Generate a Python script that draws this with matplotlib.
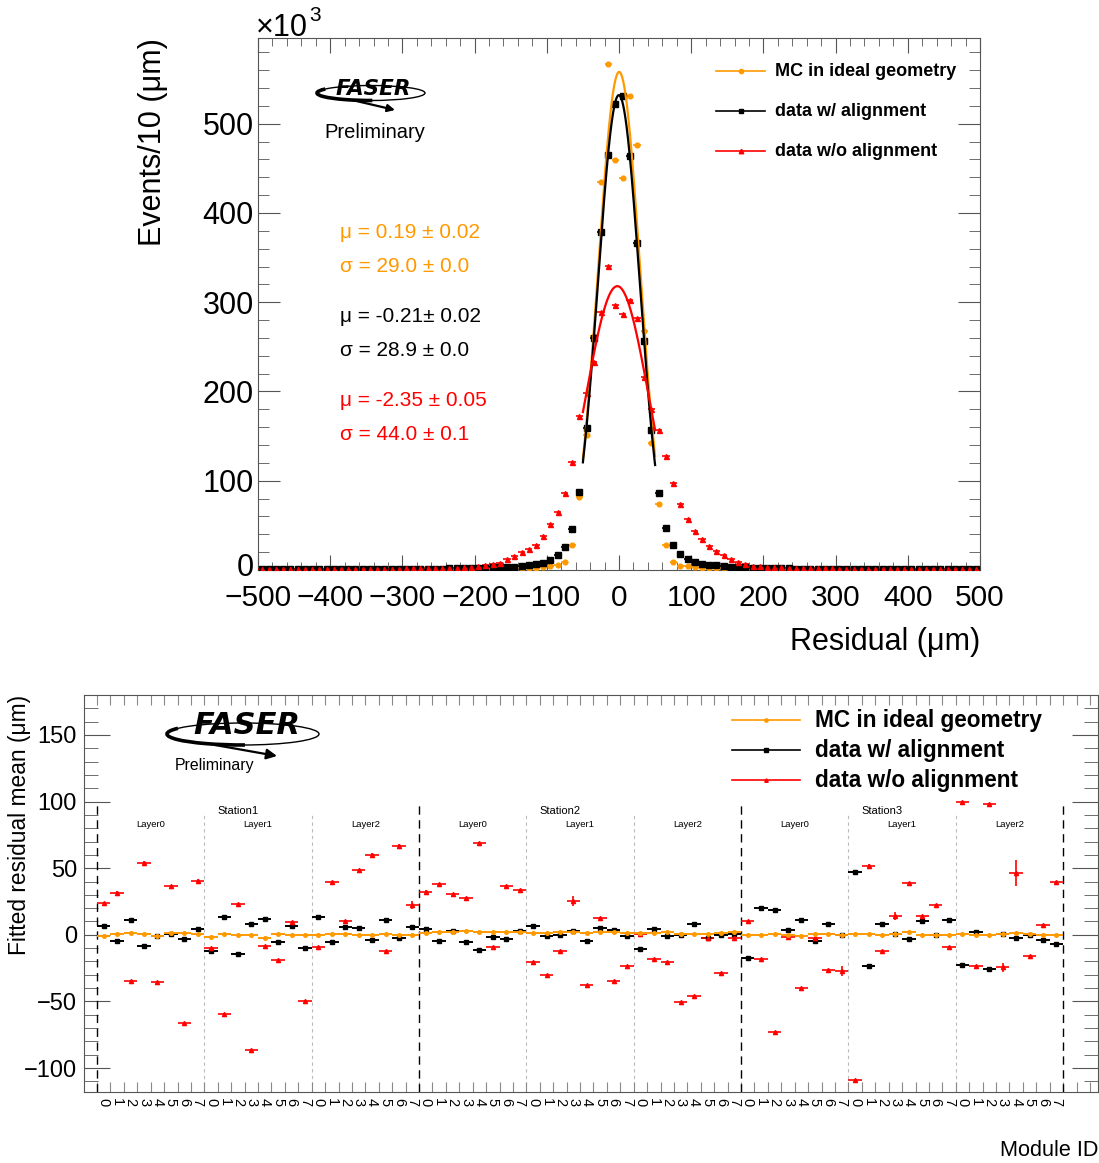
import numpy as np
import matplotlib.pyplot as plt
from matplotlib.patches import Ellipse, Arc
from matplotlib.ticker import MultipleLocator
from matplotlib.transforms import ScaledTranslation

plt.rcParams['font.family'] = ['Liberation Sans', 'DejaVu Sans']

W, H = 1099, 1163
ORANGE = '#ff9900'
TICK_GRAY = '#555555'

# ---------------- top panel: residual distributions (x10^3 events / 10 um) ----------------
residual_bins = np.arange(-495, 500, 10)

mc_counts = [
    0.4, 0.4, 0.4, 0.5, 0.4, 0.5, 0.5, 0.5, 0.5, 0.6,
    0.5, 0.6, 0.6, 0.6, 0.7, 0.7, 0.7, 0.8, 0.8, 0.9,
    0.9, 1.0, 1.0, 1.1, 1.1, 1.2, 1.2, 1.3, 1.4, 1.4,
    1.5, 1.5, 1.6, 1.7, 1.8, 1.9, 2.0, 2.1, 2.4,
    3.0, 4.0, 5.2, 9.3, 27.7, 82, 151, 262, 435, 567, 459,
    439, 531, 476, 268, 142, 74, 27.7, 9.3, 5.0, 4.0, 3.0,
    2.4, 2.1, 2.0, 1.9, 1.8, 1.7, 1.6, 1.5, 1.5, 1.4,
    1.4, 1.3, 1.2, 1.2, 1.1, 1.1, 1.0, 1.0, 0.9, 0.9,
    0.8, 0.8, 0.7, 0.7, 0.7, 0.6, 0.6, 0.6, 0.5, 0.6,
    0.5, 0.5, 0.5, 0.5, 0.4, 0.5, 0.4, 0.4, 0.4,
]
aligned_counts = [
    0.6, 0.6, 0.6, 0.7, 0.7, 0.7, 0.7, 0.8, 0.8, 0.8,
    0.9, 0.9, 0.9, 1.0, 1.0, 1.0, 1.1, 1.1, 1.2, 1.2,
    1.3, 1.3, 1.4, 1.5, 1.5, 1.6, 1.7, 1.8, 1.9, 2.1,
    2.3, 2.7, 3.0, 3.3, 3.3, 3.9, 4.6, 5.3, 6.7,
    7.5, 11, 16.5, 26, 46, 87, 159, 260, 379, 465, 522,
    531, 464, 366, 257, 157, 86, 47, 27.7, 18, 12.5, 8.6,
    7.0, 5.6, 5.2, 4.0, 3.6, 3.6, 3.3, 2.6, 2.3, 2.1,
    1.9, 1.8, 1.7, 1.6, 1.5, 1.5, 1.4, 1.3, 1.3, 1.2,
    1.2, 1.1, 1.1, 1.0, 1.0, 1.0, 0.9, 0.9, 0.9, 0.8,
    0.8, 0.8, 0.8, 0.7, 0.7, 0.7, 0.7, 0.6, 0.6,
]
unaligned_counts = [
    0.7, 0.7, 0.8, 0.8, 0.8, 0.9, 0.9, 0.9, 1.0, 1.0,
    1.1, 1.1, 1.2, 1.2, 1.3, 1.3, 1.4, 1.5, 1.5, 1.6,
    1.7, 1.8, 1.9, 2.0, 2.2, 2.4, 2.6, 2.8, 3.0, 3.3,
    4.0, 5.3, 6.7, 8.0, 12, 15.7, 20.5, 23, 28,
    38, 52, 65, 86, 121, 173, 198, 233, 289, 341, 297,
    287, 302, 282, 216, 180, 157, 128, 97, 74, 57, 44,
    34.7, 27, 21, 16.5, 12, 8.6, 7.0, 4.9, 4.0, 3.6,
    3.2, 2.9, 2.6, 2.4, 2.2, 2.0, 1.9, 1.8, 1.7, 1.6,
    1.5, 1.4, 1.3, 1.3, 1.2, 1.1, 1.1, 1.0, 1.0, 0.9,
    0.9, 0.9, 0.8, 0.8, 0.8, 0.7, 0.7, 0.7, 0.7,
]

# gaussian fit results (amplitude in x10^3, mean and sigma in um)
fit_amp = [558, 532, 318]
fit_mu = [0.19, -0.21, -2.35]
fit_sigma = [29.0, 28.9, 44.0]
fit_range = (-50, 50)

series_labels = ['MC in ideal geometry', 'data w/ alignment', 'data w/o alignment']
series_colors = [ORANGE, 'black', 'red']
stat_lines = [
    ('\u03bc = 0.19 \u00b1 0.02', '\u03c3 = 29.0 \u00b1 0.0'),
    ('\u03bc = -0.21\u00b1 0.02', '\u03c3 = 28.9 \u00b1 0.0'),
    ('\u03bc = -2.35 \u00b1 0.05', '\u03c3 = 44.0 \u00b1 0.1'),
]

# ---------------- bottom panel: fitted residual mean per module (um) ----------------
stations = ['Station1', 'Station2', 'Station3']
layers = ['Layer0', 'Layer1', 'Layer2']
modules = ['0', '1', '2', '3', '4', '5', '6', '7']

mc_mean = [
    -0.75, 0.5, 1.25, 0.25, -0.75, 1.0, 1.5, 0.75,
    -1.5, 0.25, -0.25, -0.25, -2.25, 0.25, -0.5, -0.5,
    0.0, 0.25, 0.25, -0.5, -0.5, 0.75, -0.25, -0.5,
    1.5, 2.25, 2.25, 2.5, 2.25, 2.25, 2.25, 2.25,
    1.0, 1.0, 2.25, 2.0, 1.0, 2.0, 2.0, 1.5,
    1.0, 1.5, 2.25, 0.5, 0.75, 0.25, 1.5, 1.75,
    -0.5, -0.5, 0.25, -0.5, -1.0, 0.5, 0.25, -0.5,
    0.25, 0.75, 0.0, 0.25, 2.0, 0.0, 0.0, -0.5,
    0.75, 0.0, -0.5, 0.25, 1.0, 0.5, 0.0, 0.0,
]
aligned_mean = [
    6.75, -5.0, 11.0, -8.25, -1.25, 0.5, -3.25, 4.0,
    -12.0, 13.25, -14.25, 8.0, 11.5, -5.75, 6.75, -10.25,
    13.0, -5.75, 5.5, 4.75, -3.75, 11.0, -2.25, 5.5,
    4.25, -4.75, 3.0, -5.75, -11.75, -1.5, -3.25, 2.5,
    6.75, -1.25, 0.0, 2.75, -4.5, 4.75, 3.5, -1.25,
    -10.5, 4.0, -1.25, -0.25, 8.0, -2.75, 0.0, 0.5,
    -17.75, 19.75, 18.25, 3.25, 11.0, -5.0, 7.75, -0.5,
    47.25, -23.25, 7.75, 0.5, -3.25, 10.5, 0.0, 11.0,
    -22.5, 1.75, -25.75, 0.5, -2.25, -0.25, -4.0, -6.75,
]
unaligned_mean = [
    24.0, 31.75, -35.0, 54.25, -35.25, 36.75, -66.5, 40.75,
    -10.25, -59.25, 23.25, -86.5, -8.5, -19.25, 9.25, -49.75,
    -9.25, 39.75, 10.0, 48.75, 60.25, -12.5, 67.0, 22.5,
    32.5, 38.0, 30.75, 27.5, 68.75, -9.0, 36.5, 33.75,
    -20.25, -30.5, -12.25, 25.25, -37.75, 12.5, -35.0, -23.5,
    0.75, -18.25, -20.25, -50.75, -46.0, -2.5, -28.75, -2.5,
    10.25, -18.0, -73.25, -1.5, -39.75, -2.5, -26.25, -27.0,
    -109.25, 52.0, -12.0, 14.25, 38.75, 13.75, 22.0, -9.25,
    99.75, -23.25, 98.25, -24.5, 46.5, -16.25, 7.5, 39.5,
]
unaligned_err = [
    0.8, 0.8, 0.8, 0.8, 0.8, 0.8, 0.8, 0.8,
    0.8, 0.8, 0.8, 0.8, 0.8, 0.8, 0.8, 0.8,
    0.8, 0.8, 0.8, 0.8, 0.8, 0.8, 0.8, 3.0,
    0.8, 0.8, 0.8, 0.8, 0.8, 0.8, 0.8, 0.8,
    0.8, 0.8, 0.8, 3.5, 0.8, 0.8, 0.8, 0.8,
    0.8, 0.8, 0.8, 0.8, 0.8, 0.8, 0.8, 0.8,
    0.8, 0.8, 0.8, 0.8, 0.8, 0.8, 0.8, 3.8,
    0.8, 0.8, 0.8, 2.8, 0.8, 0.8, 0.8, 0.8,
    0.8, 0.8, 0.8, 3.4, 10.0, 0.8, 0.8, 0.8,
]

n_modules = len(stations) * len(layers) * len(modules)
module_pos = np.arange(n_modules) + 0.5
module_labels = modules * (len(stations) * len(layers))

# ---------------- figure ----------------
fig = plt.figure(figsize=(W / 100, H / 100), dpi=100)


def px_axes(left, top, right, bottom):
    return fig.add_axes([left / W, 1 - bottom / H, (right - left) / W, (bottom - top) / H])


ax1 = px_axes(258, 38, 980, 570)
ax2 = px_axes(84, 695, 1098, 1092)
over = fig.add_axes([0, 0, 1, 1], zorder=5)
over.set_xlim(0, W)
over.set_ylim(H, 0)
over.axis('off')

# top panel points and fits
top_styles = [('o', 3.4), ('s', 3.8), ('^', 3.6)]
for counts, color, (mk, ms) in zip([mc_counts, aligned_counts, unaligned_counts], series_colors, top_styles):
    ax1.errorbar(residual_bins, counts, xerr=5, fmt=mk, color=color, ms=ms,
                 elinewidth=1.2, capsize=0, zorder=3)
xf = np.linspace(fit_range[0], fit_range[1], 300)
for amp, mu, sig, color in zip(fit_amp, fit_mu, fit_sigma, series_colors):
    ax1.plot(xf, amp * np.exp(-(xf - mu) ** 2 / (2 * sig ** 2)), color=color, lw=1.6, zorder=4)

ax1.set_xlim(-500, 500)
ax1.set_ylim(0, 596)
ax1.set_xticks(np.arange(-500, 501, 100))
ax1.xaxis.set_minor_locator(MultipleLocator(20))
ax1.set_yticks(np.arange(0, 501, 100))
ax1.yaxis.set_minor_locator(MultipleLocator(20))
ax1.tick_params(which='both', direction='in', top=True, right=True, color=TICK_GRAY, labelsize=22)
ax1.tick_params(axis='x', which='major', length=11, pad=10, labelsize=21.5)
ax1.tick_params(axis='x', which='minor', length=5.5)
ax1.tick_params(axis='y', which='major', length=16, pad=3)
ax1.tick_params(axis='y', which='minor', length=8)
for sp in ax1.spines.values():
    sp.set_color(TICK_GRAY)
# nudge the "0" label up a little so it clears the "-500" label below it
zero_label = ax1.get_yticklabels()[0]
zero_label.set_transform(zero_label.get_transform() + ScaledTranslation(0, 4 / 72, fig.dpi_scale_trans))

over.text(256, 36, '\u00d710', fontsize=22, ha='left', va='baseline')
over.text(309, 21, '3', fontsize=15, ha='left', va='baseline')
over.text(153, 38, 'Events/10 (\u03bcm)', fontsize=22, rotation=90, ha='center', va='top')
over.text(980, 642, 'Residual (\u03bcm)', fontsize=22, ha='right', va='center')

stat_y = [(233, 266), (316, 350), (401, 434)]
for (l1, l2), (y1, y2), color in zip(stat_lines, stat_y, series_colors):
    over.text(340, y1, l1, fontsize=15, color=color, va='center', ha='left')
    over.text(340, y2, l2, fontsize=15, color=color, va='center', ha='left')

# bottom panel
bottom_styles = [('o', 2.6), ('s', 2.9), ('^', 3.0)]
ax2.errorbar(module_pos, mc_mean, xerr=0.5, yerr=0.3, fmt=bottom_styles[0][0], ms=bottom_styles[0][1],
             color=ORANGE, elinewidth=1.4, capsize=0, zorder=4)
ax2.errorbar(module_pos, aligned_mean, xerr=0.5, yerr=0.5, fmt=bottom_styles[1][0], ms=bottom_styles[1][1],
             color='black', elinewidth=1.4, capsize=0, zorder=3)
ax2.errorbar(module_pos, unaligned_mean, xerr=0.5, yerr=unaligned_err, fmt=bottom_styles[2][0],
             ms=bottom_styles[2][1], color='red', elinewidth=1.2, capsize=0, zorder=3)

y_lo, y_hi = -118, 180
ax2.set_xlim(-0.97, 74.6)
ax2.set_ylim(y_lo, y_hi)

per_station = len(layers) * len(modules)
for s in range(len(stations) + 1):
    ax2.plot([s * per_station] * 2, [y_lo, 100], color='black', lw=1, dashes=(6, 4), zorder=2)
for s, name in enumerate(stations):
    ax2.text(s * per_station + 10.5, 93.2, name, fontsize=8, ha='center', va='center')
    for l, lname in enumerate(layers):
        x0 = s * per_station + l * len(modules)
        if l > 0:
            ax2.plot([x0] * 2, [y_lo, 91], color='#bbbbbb', lw=0.8, dashes=(3, 3), zorder=1)
        ax2.text(x0 + len(modules) / 2, 82.5, lname, fontsize=6.8, ha='center', va='center')

ax2.set_xticks(np.arange(0, 75))
ax2.set_xticklabels([])
ax2.set_xticks(module_pos, minor=True)
ax2.set_xticklabels(module_labels, minor=True, rotation=270, fontsize=10.5)
ax2.tick_params(axis='x', which='major', direction='in', top=True, length=7, color='#888888')
ax2.tick_params(axis='x', which='minor', length=0, pad=4)
ax2.set_yticks(np.arange(-100, 151, 50))
ax2.yaxis.set_minor_locator(MultipleLocator(10))
ax2.tick_params(axis='y', which='both', direction='in', left=True, right=True, color=TICK_GRAY, labelsize=17)
ax2.tick_params(axis='y', which='major', length=19, pad=5)
ax2.tick_params(axis='y', which='minor', length=10)
for sp in ax2.spines.values():
    sp.set_color(TICK_GRAY)

over.text(20, 695, 'Fitted residual mean (\u03bcm)', fontsize=16.4, rotation=90, ha='center', va='top')
over.text(1098, 1151, 'Module ID', fontsize=15.6, ha='right', va='center')


# legends (drawn in figure pixel space)
def legend_block(x0, x1, xt, ys, fs, ms_scale, lw):
    for y, label, color, (mk, ms) in zip(ys, series_labels, series_colors, top_styles):
        over.plot([x0, x1], [y, y], color=color, lw=lw)
        over.plot([(x0 + x1) / 2], [y], marker=mk, color=color, ms=ms * ms_scale)
        over.text(xt, y, label, fontsize=fs, fontweight='bold', ha='left', va='center')


legend_block(716, 765, 775, [71, 111, 151], 13, 0.9, 1.2)
legend_block(732, 800, 815, [720, 750, 780], 16.3, 0.7, 1.2)


# FASER logo approximation
def faser_logo(cx, cy, w, h, fs, txt_xy, arrow_from, arrow_to, prelim_xy, prelim_fs):
    over.add_patch(Ellipse((cx, cy), w, h, fill=False, lw=1.0, color='black'))
    over.add_patch(Arc((cx, cy), w, h, theta1=80, theta2=185, lw=2.6, color='black'))
    over.annotate('', xy=arrow_to, xytext=arrow_from,
                  arrowprops=dict(arrowstyle='-|>', lw=1.6, color='black', mutation_scale=fs * 0.7,
                                  shrinkA=0, shrinkB=0))
    over.text(txt_xy[0], txt_xy[1], 'FASER', fontsize=fs, fontweight='heavy', style='italic',
              family=['DejaVu Sans'], ha='center', va='center')
    over.text(prelim_xy[0], prelim_xy[1], 'Preliminary', fontsize=prelim_fs, ha='center', va='center')


faser_logo(371, 93, 108, 15, 15.5, (373, 89), (352, 100), (395, 110), (375, 132), 14.5)
faser_logo(243, 734, 152, 22, 22, (247, 725), (215, 745), (277, 756), (214.5, 765.7), 11.4)

fig.savefig('out.png', dpi=100)
